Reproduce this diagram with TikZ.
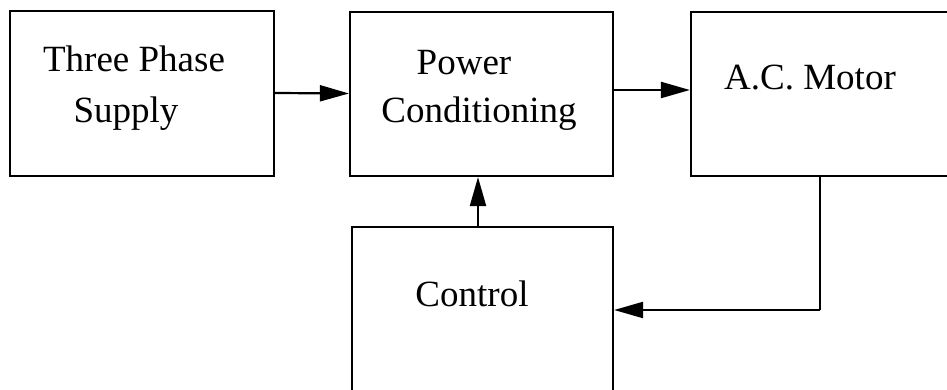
\documentclass[tikz,border=0pt]{standalone}
\usepackage{fontspec}
\setmainfont{Liberation Serif}
\usetikzlibrary{arrows.meta}
\begin{document}
\begin{tikzpicture}[x=1pt,y=1pt,
  blk/.style={draw, line width=2.2pt, inner sep=0, rectangle},
  lbl/.style={inner sep=0, anchor=base, font=\fontsize{37}{40}\selectfont},
  conn/.style={line width=2.2pt, -{Triangle[length=29pt,width=16pt]}},
  wire/.style={line width=2.2pt}]
\useasboundingbox (0,0) rectangle (947,390);
\clip (0,0) rectangle (947,390);
\node[blk, minimum width=264pt, minimum height=165pt] (supply) at (142,296.5) {};
\node[blk, minimum width=263pt, minimum height=164pt] (power) at (481.5,296) {};
\node[blk, minimum width=309pt, minimum height=164pt] (motor) at (845.5,296) {};
\node[blk, minimum width=261pt, minimum height=223pt] (control) at (482.5,51.5) {};
\node[lbl] (t1) at (134,318) {Three Phase};
\node[lbl] (t2) at (126,267) {Supply};
\node[lbl] (t3) at (464,315) {Power};
\node[lbl] (t4) at (479,267) {Conditioning};
\node[lbl] (t5) at (810,300) {A.C. Motor};
\node[lbl] (t6) at (472,83) {Control};
\draw[conn] ([yshift=0.5pt]supply.east) -- ([yshift=0.5pt]power.west);
\draw[conn] ([yshift=4pt]power.east) -- ([yshift=4pt]motor.west);
\draw[conn] ([xshift=-4.5pt]control.north) -- ([xshift=-3.5pt]power.south);
\coordinate (fb) at (820,80);
\draw[wire] (motor.south -| fb) -- (fb);
\draw[conn] (fb) -- (fb -| control.east);
\end{tikzpicture}
\end{document}
